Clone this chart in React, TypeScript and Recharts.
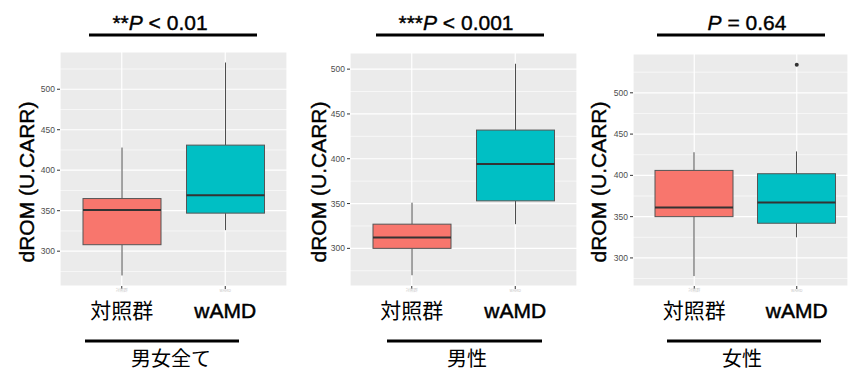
import { ComposedChart, Bar, Scatter, XAxis, YAxis, CartesianGrid, Label } from 'recharts';

const groups = ['対照群', 'wAMD'];
const yTicks = [300, 350, 400, 450, 500];
const minorTicks = [275, 325, 375, 425, 475, 525];

// [lower whisker, Q1, median, Q3, upper whisker] per group
const allStats = [[270, 308, 351, 365, 428], [326, 347, 369, 431, 533]];
const maleStats = [[270, 300, 312, 327, 351], [327, 353, 394, 432, 506]];
const femaleStats = [[278, 350, 361, 406, 428], [325, 342, 367, 402, 429]];
const femaleOutliers = [null, 534];

const pValues = ['< 0.01', '< 0.001', '= 0.64'];
const stars = ['**', '***', ''];
const panelNames = ['男女全て', '男性', '女性'];

const COLORS = ['#F8766D', '#00BFC4'];
const LATIN = '"Liberation Sans", Arial, Helvetica, sans-serif';
const CJK = '"Noto Sans CJK JP", "Liberation Sans", sans-serif';

const toRows = (stats: number[][], outliers?: (number | null)[]) =>
  groups.map((g, i) => ({
    name: g,
    range: [stats[i][0], stats[i][4]],
    q1: stats[i][1],
    med: stats[i][2],
    q3: stats[i][3],
    outlier: outliers ? outliers[i] : null,
  }));

const BoxShape = (props: any) => {
  const { x, y, width, height, payload, index } = props;
  const top = Math.min(y, y + height);
  const bottom = Math.max(y, y + height);
  const [lo, hi] = payload.range;
  const toY = (v: number) => bottom - ((v - lo) / (hi - lo)) * (bottom - top);
  const cx = x + width / 2;
  const yq1 = toY(payload.q1);
  const yq3 = toY(payload.q3);
  const ym = toY(payload.med);
  return (
    <g>
      <line x1={cx} x2={cx} y1={top} y2={yq3} stroke="#4d4d4d" strokeWidth={1} />
      <line x1={cx} x2={cx} y1={yq1} y2={bottom} stroke="#4d4d4d" strokeWidth={1} />
      <rect x={x} y={yq3} width={width} height={yq1 - yq3} fill={COLORS[index]} stroke="#555" strokeWidth={1} />
      <line x1={x} x2={x + width} y1={ym} y2={ym} stroke="#333" strokeWidth={2} />
    </g>
  );
};

const Outlier = (props: any) => {
  if (props.payload?.outlier == null) return null;
  return <circle cx={props.cx} cy={props.cy} r={2} fill="#333" />;
};

const XTick = (props: any) => {
  const { x, y, payload } = props;
  const isCjk = payload.value !== 'wAMD';
  return (
    <g>
      <text x={x} y={y + 1} textAnchor="middle" fontSize={4} fill="#c8c8c8" fontFamily={CJK}>
        {payload.value}
      </text>
      <text
        x={x}
        y={y + 27}
        textAnchor="middle"
        fontSize={21}
        fill="#000"
        stroke={isCjk ? 'none' : '#000'}
        strokeWidth={0.5}
        fontFamily={isCjk ? CJK : LATIN}
      >
        {payload.value}
      </text>
    </g>
  );
};

// minor grid positions through the y axis scale (falls back to the plot offset)
const minorGen = (domain: [number, number]) => ({ yAxis, offset }: any) => {
  const s = yAxis?.scale;
  const f =
    typeof s === 'function'
      ? (v: number) => s(v)
      : s && typeof s.map === 'function'
      ? (v: number) => s.map(v)
      : (v: number) => offset.top + (offset.height * (domain[1] - v)) / (domain[1] - domain[0]);
  return minorTicks.filter((t) => t > domain[0] && t < domain[1]).map(f);
};

interface PanelProps {
  left: number;
  width: number;
  yWidth: number;
  top: number;
  right: number;
  padLeft: number;
  padRight: number;
  domain: [number, number];
  rows: any[];
  labelX: number;
}

const Panel = ({ left, width, yWidth, top, right, padLeft, padRight, domain, rows, labelX }: PanelProps) => (
  <div style={{ position: 'absolute', left, top: 0, width, height: 371 }}>
    <ComposedChart width={width} height={371} data={rows} margin={{ top, right, bottom: 45, left: 0 }}>
      <CartesianGrid fill="#EBEBEB" stroke="#fff" strokeWidth={1.2} />
      <CartesianGrid vertical={false} stroke="#fff" strokeWidth={0.6} horizontalCoordinatesGenerator={minorGen(domain)} />
      <XAxis
        dataKey="name"
        height={40}
        interval={0}
        axisLine={false}
        tickSize={3}
        tickLine={{ stroke: '#333' }}
        padding={{ left: padLeft, right: padRight }}
        tick={<XTick />}
      />
      <YAxis
        type="number"
        domain={domain}
        ticks={yTicks}
        width={yWidth}
        axisLine={false}
        tickSize={3}
        tickMargin={2}
        tickLine={{ stroke: '#333' }}
        tick={{ fontSize: 8.5, fill: '#4d4d4d', fontFamily: LATIN }}
        allowDataOverflow
      >
        <Label
          content={() => (
            <text
              x={labelX}
              y={182}
              transform={`rotate(-90 ${labelX} 182)`}
              textAnchor="middle"
              dominantBaseline="central"
              fontSize={21}
              fill="#000"
              stroke="#000"
              strokeWidth={0.4}
              fontFamily={LATIN}
            >
              dROM (U.CARR)
            </text>
          )}
        />
      </YAxis>
      <Bar dataKey="range" barSize={78} shape={<BoxShape />} isAnimationActive={false} />
      <Scatter dataKey="outlier" shape={<Outlier />} isAnimationActive={false} />
    </ComposedChart>
  </div>
);

const titleCenters = [160, 456, 747];
const topLines = [[89, 257], [376, 544], [657, 825]];
const bottomLines = [[85, 239], [387, 542], [667, 821]];
const nameCenters = [171, 467, 742];

export default function App() {
  return (
    <div style={{ position: 'absolute', left: 0, top: 0, width: 848, height: 371, background: '#fff', overflow: 'hidden' }}>
      <Panel left={0} width={290} yWidth={60} top={52} right={3} padLeft={10} padRight={10}
        domain={[257, 546]} rows={toRows(allStats)} labelX={26} />
      <Panel left={290} width={290} yWidth={60} top={53} right={3} padLeft={10} padRight={10}
        domain={[258, 518]} rows={toRows(maleStats)} labelX={28} />
      <Panel left={570} width={278} yWidth={63} top={54} right={0} padLeft={10} padRight={0}
        domain={[266, 547]} rows={toRows(femaleStats, femaleOutliers)} labelX={28} />
      <svg width={848} height={371} style={{ position: 'absolute', left: 0, top: 0, pointerEvents: 'none' }}>
        {pValues.map((p, i) => (
          <text key={i} x={titleCenters[i]} y={30} textAnchor="middle" fontSize={21} fill="#000"
            stroke="#000" strokeWidth={0.4} fontFamily={LATIN}>
            {stars[i]}
            <tspan fontStyle="italic">P</tspan>
            {' ' + p}
          </text>
        ))}
        {topLines.map(([a, b], i) => (
          <line key={i} x1={a} x2={b} y1={35} y2={35} stroke="#000" strokeWidth={3} />
        ))}
        {bottomLines.map(([a, b], i) => (
          <line key={i} x1={a} x2={b} y1={341} y2={341} stroke="#000" strokeWidth={3} />
        ))}
        {panelNames.map((n, i) => (
          <text key={i} x={nameCenters[i]} y={366} textAnchor="middle" fontSize={20} fill="#000" fontFamily={CJK}>
            {n}
          </text>
        ))}
      </svg>
    </div>
  );
}
